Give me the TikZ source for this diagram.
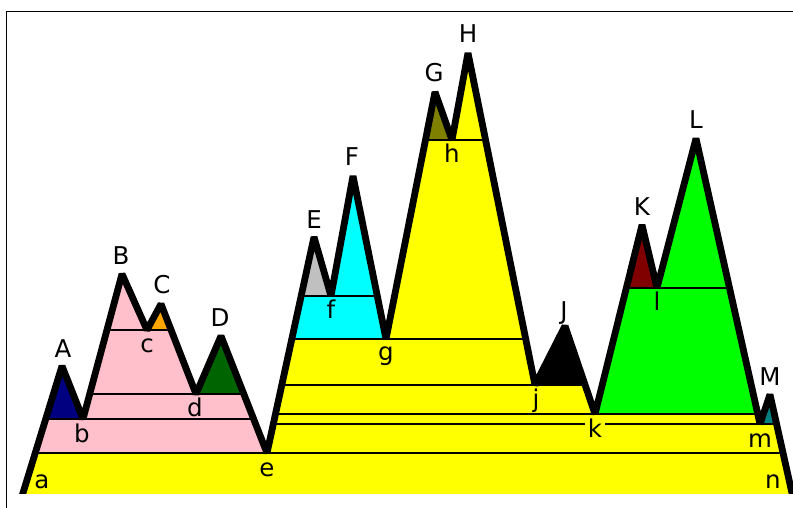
\documentclass[tikz,border=0pt]{standalone}
\usepackage{fontspec}
\setmainfont{DejaVu Sans}
\definecolor{cyel}{HTML}{FFFF00}
\definecolor{cpink}{HTML}{FFC0CB}
\definecolor{cnavy}{HTML}{000080}
\definecolor{corange}{HTML}{FFA500}
\definecolor{cdgreen}{HTML}{006400}
\definecolor{cgreen}{HTML}{00FF00}
\definecolor{cmaroon}{HTML}{800000}
\definecolor{cteal}{HTML}{008080}
\definecolor{ccyan}{HTML}{00FFFF}
\definecolor{csilver}{HTML}{C0C0C0}
\definecolor{colive}{HTML}{808000}
\begin{document}
\begin{tikzpicture}[x=1pt,y=-1pt,
  outline/.style={line width=6.8pt,line join=bevel},
  levelline/.style={line width=2pt},
  lbl/.style={anchor=base,inner sep=0pt,font=\fontsize{24.5}{28}\selectfont}]
\useasboundingbox (0,0) rectangle (793,508);
\draw[line width=1.3pt] (6.5,508) -- (6.5,11.5) -- (793,11.5);
% profile points
\coordinate (a0) at (19.9,503);
\coordinate (A) at (62,366);
\coordinate (b) at (83,419);
\coordinate (B) at (122,274);
\coordinate (c) at (147,330);
\coordinate (C) at (161,304);
\coordinate (d) at (196,394);
\coordinate (D) at (221,336);
\coordinate (e) at (267,453);
\coordinate (E) at (314,237);
\coordinate (f) at (331,296);
\coordinate (F) at (353,176);
\coordinate (g) at (386,339);
\coordinate (G) at (435,92);
\coordinate (h) at (452,140);
\coordinate (H) at (468,53);
\coordinate (j) at (535,385);
\coordinate (J) at (565,326);
\coordinate (k) at (595,414);
\coordinate (K) at (642,225);
\coordinate (l) at (657,288);
\coordinate (L) at (696,138.5);
\coordinate (m) at (760,424);
\coordinate (M) at (770,394.5);
\coordinate (n0) at (794.2,503);
% level end points
\coordinate (eL) at (35.3,453);  \coordinate (eR) at (783.1,453);
\coordinate (bL) at (45.7,419);  \coordinate (bR) at (253.6,419);
\coordinate (dL) at (89.7,394);  \coordinate (dR) at (243.8,394);
\coordinate (cL) at (107,330);   \coordinate (cR) at (171.1,330);
\coordinate (mL) at (273.3,424); \coordinate (mR) at (776.6,424);
\coordinate (kL) at (275.5,414); \coordinate (kR) at (757.8,414);
\coordinate (jL) at (281.8,385); \coordinate (jR) at (585.1,385);
\coordinate (gL) at (291.8,339); \coordinate (gR) at (525.7,339);
\coordinate (fL) at (301.2,296); \coordinate (fR) at (377.3,296);
\coordinate (hL) at (425.4,140); \coordinate (hR) at (485.6,140);
\coordinate (lL) at (626.3,288); \coordinate (lR) at (729.5,288);
\begin{scope}
\clip (0,0) rectangle (793,493);
\fill[cyel] (a0) -- (A) -- (b) -- (B) -- (c) -- (C) -- (d) -- (D) -- (e) -- (E) -- (f) -- (F) -- (g) -- (G) -- (h) -- (H) -- (j) -- (J) -- (k) -- (K) -- (l) -- (L) -- (m) -- (M) -- (n0) -- cycle;
\fill[cpink] (eL) -- (A) -- (b) -- (B) -- (c) -- (C) -- (d) -- (D) -- (e) -- cycle;
\fill[cnavy] (bL) -- (A) -- (b) -- cycle;
\fill[corange] (c) -- (C) -- (cR) -- cycle;
\fill[cdgreen] (d) -- (D) -- (dR) -- cycle;
\fill[ccyan] (gL) -- (E) -- (f) -- (F) -- (g) -- cycle;
\fill[csilver] (fL) -- (E) -- (f) -- cycle;
\fill[colive] (hL) -- (G) -- (h) -- cycle;
\fill[black] (j) -- (J) -- (jR) -- cycle;
\fill[cgreen] (k) -- (K) -- (l) -- (L) -- (kR) -- cycle;
\fill[cmaroon] (lL) -- (K) -- (l) -- cycle;
\fill[cteal] (m) -- (M) -- (mR) -- cycle;
\draw[levelline] (eL) -- (eR);
\draw[levelline] (bL) -- (bR);
\draw[levelline] (dL) -- (dR);
\draw[levelline] (cL) -- (cR);
\draw[levelline] (mL) -- (mR);
\draw[levelline] (kL) -- (kR);
\draw[levelline] (jL) -- (jR);
\draw[levelline] (gL) -- (gR);
\draw[levelline] (fL) -- (fR);
\draw[levelline] (hL) -- (hR);
\draw[levelline] (lL) -- (lR);
\draw[outline] (a0) -- (A) -- (b) -- (B) -- (c) -- (C) -- (d) -- (D) -- (e) -- (E) -- (f) -- (F) -- (g) -- (G) -- (h) -- (H) -- (j) -- (J) -- (k) -- (K) -- (l) -- (L) -- (m) -- (M) -- (n0);
\end{scope}
% labels
\node[lbl] (tA) at (63,357) {A};
\node[lbl] (tB) at (121,264) {B};
\node[lbl] (tC) at (162,293) {C};
\node[lbl] (tD) at (220,326) {D};
\node[lbl] (tE) at (314,228) {E};
\node[lbl] (tF) at (352,166) {F};
\node[lbl] (tG) at (434,82) {G};
\node[lbl] (tH) at (468,43) {H};
\node[lbl] (tJ) at (564,319) {J};
\node[lbl] (tK) at (642,215) {K};
\node[lbl] (tL) at (696,129) {L};
\node[lbl] (tM) at (770,385) {M};
\node[lbl] (ta) at (42,488) {a};
\node[lbl] (tb) at (82,442) {b};
\node[lbl] (tc) at (147,352) {c};
\node[lbl] (td) at (195,416) {d};
\node[lbl] (te) at (267,476) {e};
\node[lbl] (tf) at (331,318) {f};
\node[lbl] (tg) at (386,360) {g};
\node[lbl] (th) at (452,163) {h};
\node[lbl] (tj) at (536,407) {j};
\node[lbl,fill=cyel,inner xsep=3pt] (tk) at (595,437) {k};
\node[lbl] (tl) at (657,310) {l};
\node[lbl] (tm) at (760,447) {m};
\node[lbl] (tn) at (773,488) {n};
\end{tikzpicture}
\end{document}
